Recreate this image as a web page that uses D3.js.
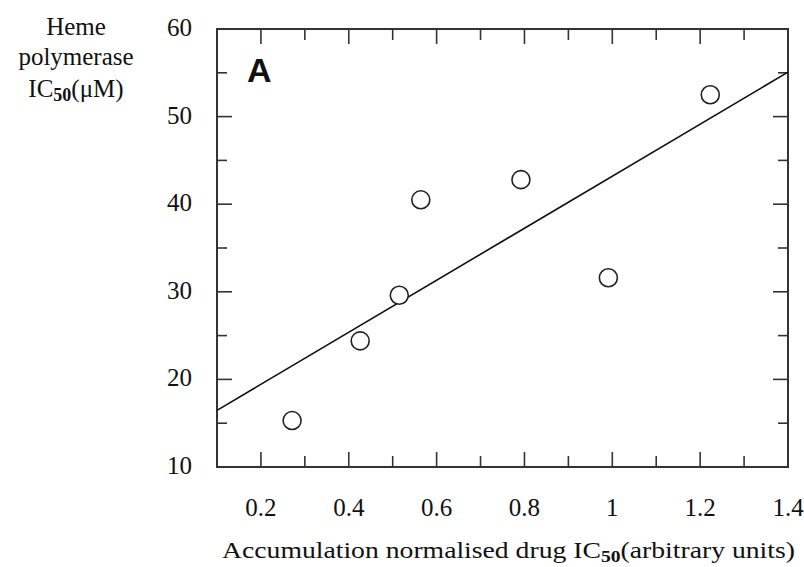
<!DOCTYPE html>
<html>
<head>
  <meta charset="utf-8">
  <title>Heme polymerase IC50 vs accumulation normalised drug IC50</title>
  <script src="https://cdn.jsdelivr.net/npm/d3@7/dist/d3.min.js"></script>
  <style>
    body { margin: 0; background: #fff; }
    svg { display: block; }
    text { font-family: "Liberation Serif", "Times New Roman", serif; fill: #111; }
  </style>
</head>
<body>
  <svg width="804" height="567"></svg>

  <script>
    // data
    const drugIC50 = [0.271, 0.426, 0.515, 0.564, 0.792, 0.991, 1.223];
    const hemeIC50 = [15.3, 24.4, 29.6, 40.5, 42.8, 31.6, 52.5];
    // fitted line y = a + b*x
    const fitIntercept = 13.5;
    const fitSlope = 29.7;

    const xTicks = [0.2, 0.4, 0.6, 0.8, 1, 1.2, 1.4];
    const xMinor = [0.2, 0.3, 0.4, 0.5, 0.6, 0.7, 0.8, 0.9, 1.0, 1.1, 1.2, 1.3];
    const yTicks = [10, 20, 30, 40, 50, 60];
    const yMinor = [15, 20, 25, 30, 35, 40, 45, 50, 55];

    const data = drugIC50.map((d, i) => ({ x: d, y: hemeIC50[i] }));

    const svg = d3.select("svg");
    const pLeft = 217, pRight = 788, pTop = 29, pBottom = 467;

    const xScale = d3.scaleLinear().domain([0.1, 1.4]).range([pLeft, pRight]);
    const yScale = d3.scaleLinear().domain([10, 60]).range([pBottom, pTop]);

    const isMajorX = v => Math.abs(v * 5 - Math.round(v * 5)) < 1e-6;
    const frameColor = "#333";

    // ticks (inward on all four sides)
    const tk = svg.append("g").attr("stroke", frameColor).attr("stroke-width", 1.6);
    xMinor.forEach(v => {
      const len = isMajorX(v) ? 15 : 11;
      const x = xScale(v);
      tk.append("line").attr("x1", x).attr("x2", x).attr("y1", pBottom).attr("y2", pBottom - len);
      tk.append("line").attr("x1", x).attr("x2", x).attr("y1", pTop).attr("y2", pTop + len);
    });
    yMinor.forEach(v => {
      const len = v % 10 === 0 ? 15 : 10;
      const y = yScale(v);
      tk.append("line").attr("x1", pLeft).attr("x2", pLeft + len).attr("y1", y).attr("y2", y);
      tk.append("line").attr("x1", pRight).attr("x2", pRight - len).attr("y1", y).attr("y2", y);
    });

    // frame
    svg.append("rect")
      .attr("x", pLeft).attr("y", pTop)
      .attr("width", pRight - pLeft).attr("height", pBottom - pTop)
      .attr("fill", "none").attr("stroke", frameColor).attr("stroke-width", 2);

    // tick labels
    svg.append("g").selectAll("text").data(xTicks).join("text")
      .attr("x", d => xScale(d)).attr("y", 516)
      .attr("text-anchor", "middle").attr("font-size", 25)
      .text(d => d3.format("~g")(d));

    svg.append("g").selectAll("text").data(yTicks).join("text")
      .attr("x", 192).attr("y", d => yScale(d) + 7)
      .attr("text-anchor", "end").attr("font-size", 25)
      .text(d => d);

    // regression line
    const line = d3.line().x(d => xScale(d)).y(d => yScale(fitIntercept + fitSlope * d));
    svg.append("path")
      .datum([0.1, 1.4])
      .attr("d", line)
      .attr("fill", "none").attr("stroke", "#111").attr("stroke-width", 1.6);

    // points
    svg.append("g").selectAll("circle").data(data).join("circle")
      .attr("cx", d => xScale(d.x)).attr("cy", d => yScale(d.y))
      .attr("r", 9)
      .attr("fill", "#fff").attr("stroke", "#222").attr("stroke-width", 1.6);

    // panel letter
    svg.append("text")
      .attr("x", 247).attr("y", 82)
      .style("font-family", "'Liberation Sans', Arial, sans-serif")
      .attr("font-weight", "bold").attr("font-size", 34)
      .text("A");

    // y title
    const yt = svg.append("text").attr("text-anchor", "middle").attr("font-size", 25);
    yt.append("tspan").attr("x", 76).attr("y", 35).text("Heme");
    yt.append("tspan").attr("x", 76).attr("y", 65).text("polymerase");
    yt.append("tspan").attr("x", 76).attr("y", 97).text("IC")
      .append("tspan").attr("dy", 4).attr("font-size", 18).attr("font-weight", "bold").text("50");
    // continuation of third line
    yt.append("tspan").attr("dy", -4).text("(\u03BCM)");

    // x title
    const xt = svg.append("text").attr("x", 222).attr("y", 558)
      .attr("font-size", 24)
      .attr("textLength", 573).attr("lengthAdjust", "spacingAndGlyphs");
    xt.append("tspan").text("Accumulation normalised drug IC");
    xt.append("tspan").attr("dy", 4).attr("font-size", 17).attr("font-weight", "bold").text("50");
    xt.append("tspan").attr("dy", -4).text("(arbitrary units)");
  </script>
</body>
</html>
